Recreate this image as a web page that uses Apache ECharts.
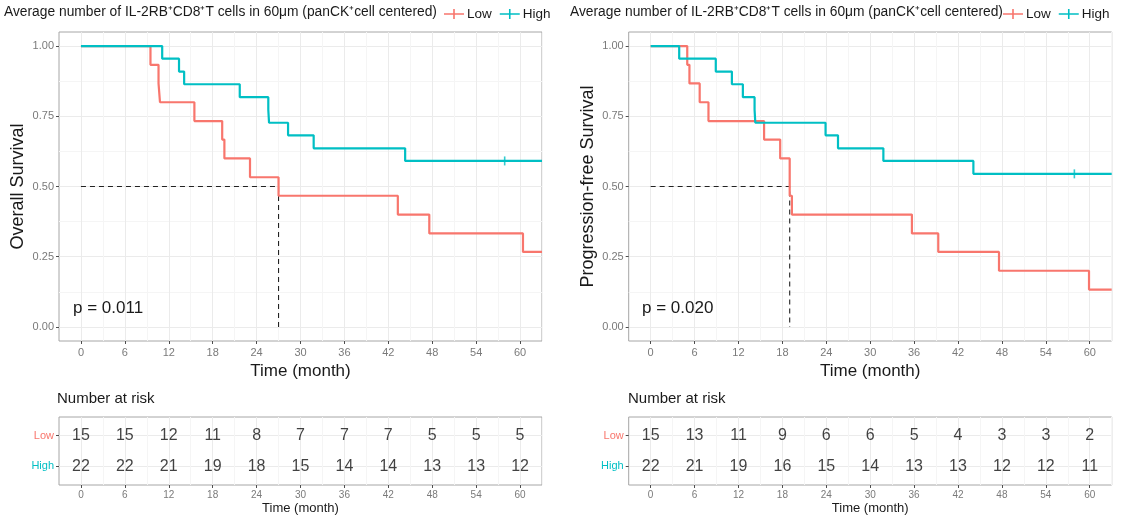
<!DOCTYPE html>
<html><head><meta charset="utf-8">
<script src="https://cdn.jsdelivr.net/npm/echarts@6/dist/echarts.min.js"></script>
<style>html,body{margin:0;padding:0;background:#fff}#c{width:1125px;height:519px}</style>
</head><body><div id="c"></div><script>
// ---- data ----
const groups = ['Low', 'High'];
const xTicks = [0, 6, 12, 18, 24, 30, 36, 42, 48, 54, 60];
const xGridLines = [0, 3, 6, 9, 12, 15, 18, 21, 24, 27, 30, 33, 36, 39, 42, 45, 48, 51, 54, 57, 60, 63];
const yTicks = [0, 0.25, 0.5, 0.75, 1];
const yGridLines = [0, 0.125, 0.25, 0.375, 0.5, 0.625, 0.75, 0.875, 1];
const riskTimes = [0, 6, 12, 18, 24, 30, 36, 42, 48, 54, 60];
const medianLevel = 0.5;

// Overall survival
const osLowTime  = [0, 9.5, 10.6, 10.8, 15.5, 19.3, 19.6, 23.1, 27.0, 43.3, 47.6, 60.4, 63];
const osLowSurv  = [1, 0.933, 0.867, 0.8, 0.733, 0.667, 0.6, 0.533, 0.467, 0.4, 0.333, 0.267, 0.267];
const osHighTime = [0, 11.1, 13.4, 14.1, 21.7, 25.6, 25.7, 28.3, 31.8, 44.3, 63];
const osHighSurv = [1, 0.955, 0.909, 0.864, 0.818, 0.773, 0.727, 0.682, 0.636, 0.591, 0.591];
const osHighCensorTime = [57.9];
const osHighCensorSurv = [0.591];
const osMedian = 27.0;
const osRiskLow  = [15, 15, 12, 11, 8, 7, 7, 7, 5, 5, 5];
const osRiskHigh = [22, 22, 21, 19, 18, 15, 14, 14, 13, 13, 12];

// Progression-free survival
const pfsLowTime  = [0, 5.0, 5.3, 6.7, 7.9, 15.5, 17.7, 19.0, 19.3, 35.7, 39.3, 47.6, 59.9, 63];
const pfsLowSurv  = [1, 0.933, 0.867, 0.8, 0.733, 0.667, 0.6, 0.467, 0.4, 0.333, 0.267, 0.2, 0.133, 0.133];
const pfsHighTime = [0, 3.9, 8.9, 11.1, 12.6, 14.2, 14.3, 23.9, 25.6, 31.8, 44.1, 63];
const pfsHighSurv = [1, 0.955, 0.909, 0.864, 0.818, 0.773, 0.727, 0.682, 0.636, 0.591, 0.545, 0.545];
const pfsHighCensorTime = [57.9];
const pfsHighCensorSurv = [0.545];
const pfsMedian = 19.0;
const pfsRiskLow  = [15, 13, 11, 9, 6, 6, 5, 4, 3, 3, 2];
const pfsRiskHigh = [22, 21, 19, 16, 15, 14, 13, 13, 12, 12, 11];

const titleText = 'Average number of IL-2RB\u207ACD8\u207AT cells in 60\u03BCm (panCK\u207Acell centered)';
const yTitles = ['Overall Survival', 'Progression-free Survival'];
const pTexts = ['p = 0.011', 'p = 0.020'];

// ---- styling ----
const RED = '#F8766D', TEAL = '#00BFC4';
const FONT = 'Liberation Sans, Arial, Helvetica, sans-serif';
const zip = (a, b) => a.map((v, i) => [v, b[i]]);

const mainGrids = [
  {left: 59, top: 32, width: 483, height: 309},
  {left: 628.7, top: 32, width: 483, height: 309}
];
const tableGrids = [
  {left: 59, top: 417, width: 483, height: 68},
  {left: 628.7, top: 417, width: 483, height: 68}
];
const grids = mainGrids.concat(tableGrids).map(g => Object.assign({
  show: true, borderColor: '#a6a6a6', borderWidth: 1, backgroundColor: '#fff', containLabel: false
}, g));

const xAxes = [], yAxes = [];
function addAxes(gi, isTable) {
  xAxes.push({
    type: 'value', gridIndex: gi, min: -3, max: 63, position: 'bottom',
    axisLine: {show: false, onZero: false},
    axisTick: {show: true, customValues: xTicks, length: 3, lineStyle: {color: '#4d4d4d'}},
    axisLabel: {customValues: xTicks, color: '#7a7a7a', fontSize: isTable ? 10 : 11, margin: isTable ? 5 : 6, fontFamily: FONT},
    splitLine: {show: false},
    name: 'Time (month)', nameLocation: 'middle', nameGap: isTable ? 17 : 21,
    nameTextStyle: {fontSize: isTable ? 13 : 17, color: '#1a1a1a', fontFamily: FONT}
  });
  xAxes.push({
    type: 'value', gridIndex: gi, min: -3, max: 63, position: 'bottom',
    axisLine: {show: false, onZero: false}, axisTick: {show: false, customValues: xGridLines}, axisLabel: {show: false},
    splitLine: {show: true, lineStyle: {color: ['#ebebeb', '#f5f5f5'], width: 1}}
  });
  if (!isTable) {
    yAxes.push({
      type: 'value', gridIndex: gi, min: -0.05, max: 1.05, position: 'left',
      axisLine: {show: false, onZero: false},
      axisTick: {show: true, customValues: yTicks, length: 3, lineStyle: {color: '#4d4d4d'}},
      axisLabel: {customValues: yTicks, formatter: v => v.toFixed(2), color: '#7a7a7a', fontSize: 11, margin: 5, fontFamily: FONT},
      splitLine: {show: false},
      name: yTitles[gi], nameLocation: 'middle', nameGap: 32,
      nameTextStyle: {fontSize: 18, color: '#1a1a1a', fontFamily: FONT}
    });
    yAxes.push({
      type: 'value', gridIndex: gi, min: -0.05, max: 1.05, position: 'left',
      axisLine: {show: false, onZero: false}, axisTick: {show: false, customValues: yGridLines}, axisLabel: {show: false},
      splitLine: {show: true, lineStyle: {color: ['#ebebeb', '#f5f5f5'], width: 1}}
    });
  } else {
    yAxes.push({
      type: 'value', gridIndex: gi, min: 0.4, max: 2.6, position: 'left',
      axisLine: {show: false, onZero: false},
      axisTick: {show: true, customValues: [1, 2], length: 3, lineStyle: {color: '#4d4d4d'}},
      axisLabel: {customValues: [1, 2], margin: 5, fontFamily: FONT,
        formatter: v => v === 2 ? '{l|' + groups[0] + '}' : '{h|' + groups[1] + '}',
        rich: {l: {color: RED, fontSize: 11, fontFamily: FONT}, h: {color: TEAL, fontSize: 11, fontFamily: FONT}}},
      splitLine: {show: false}
    });
    yAxes.push({
      type: 'value', gridIndex: gi, min: 0.4, max: 2.6, position: 'left',
      axisLine: {show: false, onZero: false}, axisTick: {show: false, customValues: [1, 2]}, axisLabel: {show: false},
      splitLine: {show: true, lineStyle: {color: '#ebebeb', width: 1}}
    });
  }
}
addAxes(0, false); addAxes(1, false); addAxes(2, true); addAxes(3, true);

const series = [];
function kmPanel(pi, lowT, lowS, highT, highS, cT, cS, med) {
  const xi = pi * 2, yi = pi * 2;
  series.push({
    type: 'line', name: 'median', xAxisIndex: xi, yAxisIndex: yi, z: 1,
    data: [[0, medianLevel], [med, medianLevel], [med, 0]],
    showSymbol: false, silent: true,
    lineStyle: {color: '#222', width: 1.1, type: [5, 4]}
  });
  series.push({
    type: 'line', name: groups[0], xAxisIndex: xi, yAxisIndex: yi, step: 'end', z: 3,
    data: zip(lowT, lowS), showSymbol: false, color: RED,
    lineStyle: {color: RED, width: 2.2}
  });
  series.push({
    type: 'line', name: groups[1], xAxisIndex: xi, yAxisIndex: yi, step: 'end', z: 3,
    data: zip(highT, highS), showSymbol: false, color: TEAL,
    lineStyle: {color: TEAL, width: 2.2}
  });
  series.push({
    type: 'scatter', name: groups[1], xAxisIndex: xi, yAxisIndex: yi, z: 4,
    data: zip(cT, cS), symbol: 'rect', symbolSize: [1.6, 9], itemStyle: {color: TEAL}, silent: true
  });
}
kmPanel(0, osLowTime, osLowSurv, osHighTime, osHighSurv, osHighCensorTime, osHighCensorSurv, osMedian);
kmPanel(1, pfsLowTime, pfsLowSurv, pfsHighTime, pfsHighSurv, pfsHighCensorTime, pfsHighCensorSurv, pfsMedian);

function riskTable(ti, lowN, highN) {
  const ai = 4 + ti * 2;
  const lbl = {show: true, position: 'inside', formatter: p => String(p.value[2]), fontSize: 16, color: '#111', fontFamily: FONT};
  series.push({
    type: 'scatter', name: 'risk' + groups[0], xAxisIndex: ai, yAxisIndex: ai, symbolSize: 0, silent: true,
    data: riskTimes.map((t, i) => [t, 2, lowN[i]]), label: lbl
  });
  series.push({
    type: 'scatter', name: 'risk' + groups[1], xAxisIndex: ai, yAxisIndex: ai, symbolSize: 0, silent: true,
    data: riskTimes.map((t, i) => [t, 1, highN[i]]), label: lbl
  });
}
riskTable(0, osRiskLow, osRiskHigh);
riskTable(1, pfsRiskLow, pfsRiskHigh);

const plusIcon = 'path://M0,4.2H20V5.8H0Z M9.2,0H10.8V10H9.2Z';
const legendBase = {
  data: groups, top: 7, padding: 0, itemWidth: 20, itemHeight: 10, itemGap: 8, icon: plusIcon,
  selectedMode: false, textStyle: {fontSize: 13.5, color: '#1a1a1a', fontFamily: FONT, padding: [0, 0, 0, -2]}
};

const txt = (x, y, text, size, extra) => ({
  type: 'text', left: x, top: y, z: 10,
  style: Object.assign({text: text, fontSize: size, fill: '#1a1a1a', fontFamily: FONT}, extra || {})
});

const option = {
  animation: false,
  textStyle: {fontFamily: FONT},
  grid: grids,
  xAxis: xAxes,
  yAxis: yAxes,
  legend: [Object.assign({left: 444}, legendBase), Object.assign({left: 1003}, legendBase)],
  series: series,
  graphic: [
    txt(4, 5, titleText, 13.8),
    txt(570, 5, titleText, 13.8),
    txt(73, 300, pTexts[0], 17),
    txt(642, 300, pTexts[1], 17),
    txt(57, 391, 'Number at risk', 15),
    txt(628, 391, 'Number at risk', 15)
  ]
};

const chart = echarts.init(document.getElementById('c'), null, {renderer: 'canvas'});
chart.setOption(option);
</script></body></html>
